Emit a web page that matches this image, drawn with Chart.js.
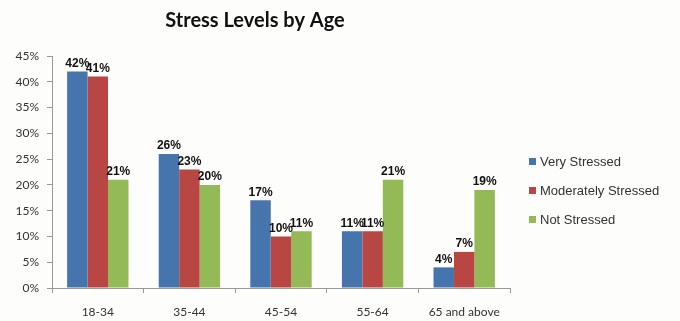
<!DOCTYPE html>
<html>
<head>
<meta charset="utf-8">
<script src="https://cdn.jsdelivr.net/npm/chart.js@4/dist/chart.umd.min.js"></script>
<style>
html,body{margin:0;padding:0;background:#fdfdfc;}
#wrap{width:680px;height:321px;position:relative;}
</style>
</head>
<body>
<div id="wrap"><canvas id="c" width="680" height="321"></canvas></div>
<script>
const categories = ["18-34", "35-44", "45-54", "55-64", "65 and above"];
const seriesNames = ["Very Stressed", "Moderately Stressed", "Not Stressed"];
const veryStressed = [42, 26, 17, 11, 4];
const moderatelyStressed = [41, 23, 10, 11, 7];
const notStressed = [21, 20, 11, 21, 19];
const yTicks = [0, 5, 10, 15, 20, 25, 30, 35, 40, 45];
const colors = ["#4675AE", "#B84744", "#94B957"];

const valueLabels = {
  id: 'valueLabels',
  afterDatasetsDraw(chart) {
    const ctx = chart.ctx;
    ctx.save();
    ctx.font = 'bold 12px "Liberation Sans", Arial, sans-serif';
    ctx.fillStyle = '#111';
    ctx.textAlign = 'center';
    ctx.textBaseline = 'bottom';
    chart.data.datasets.forEach((ds, i) => {
      const meta = chart.getDatasetMeta(i);
      meta.data.forEach((bar, j) => {
        ctx.fillText(ds.data[j] + '%', bar.x, bar.y - 2);
      });
    });
    ctx.restore();
  }
};

const customLegend = {
  id: 'customLegend',
  afterDraw(chart) {
    const ctx = chart.ctx;
    ctx.save();
    ctx.font = '13px "Liberation Sans", Arial, sans-serif';
    ctx.textBaseline = 'middle';
    ctx.textAlign = 'left';
    const x0 = 529, y0 = 162, step = 29;
    chart.data.datasets.forEach((ds, i) => {
      const y = y0 + i * step;
      ctx.fillStyle = ds.backgroundColor;
      ctx.fillRect(x0, y - 4, 7, 7);
      ctx.fillStyle = '#333';
      ctx.fillText(ds.label, x0 + 11, y);
    });
    ctx.restore();
  }
};

new Chart(document.getElementById('c'), {
  type: 'bar',
  data: {
    labels: categories,
    datasets: [
      { label: seriesNames[0], data: veryStressed, backgroundColor: colors[0] },
      { label: seriesNames[1], data: moderatelyStressed, backgroundColor: colors[1] },
      { label: seriesNames[2], data: notStressed, backgroundColor: colors[2] }
    ]
  },
  options: {
    responsive: false,
    animation: false,
    devicePixelRatio: 1,
    layout: { padding: { left: 0, right: 170, top: 0, bottom: 0 } },
    datasets: { bar: { categoryPercentage: 0.67, barPercentage: 1.0 } },
    plugins: {
      legend: { display: false },
      tooltip: { enabled: false },
      title: {
        display: true,
        text: 'Stress Levels by Age',
        color: '#111',
        font: { family: 'Lato, "Open Sans", sans-serif', size: 20, weight: 'bold' },
        padding: { top: 9, bottom: 23 }
      }
    },
    scales: {
      x: {
        grid: { display: true, drawOnChartArea: false, drawTicks: true, tickLength: 5, color: '#999', offset: true },
        border: { display: true, color: '#999', width: 1 },
        ticks: { color: '#333', padding: 12, font: { family: 'Lato, sans-serif', size: 12 } },
        afterFit(s) { s.height = 33; }
      },
      y: {
        min: 0, max: 45,
        afterBuildTicks(s) { s.ticks = yTicks.map(v => ({ value: v })); },
        grid: { display: true, drawOnChartArea: false, drawTicks: true, tickLength: 5, color: '#999' },
        border: { display: true, color: '#999', width: 1 },
        ticks: { color: '#333', padding: 8, font: { family: 'Lato, sans-serif', size: 12 }, callback: v => v + '%' },
        afterFit(s) { s.width = 52; }
      }
    }
  },
  plugins: [valueLabels, customLegend]
});
</script>
</body>
</html>
